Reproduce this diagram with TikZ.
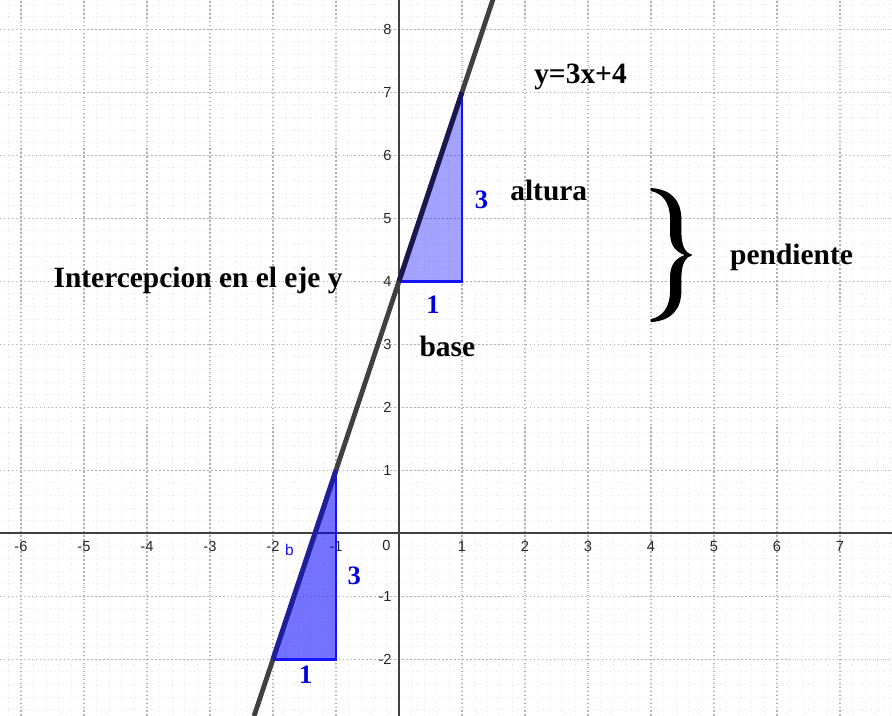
\documentclass[tikz,border=0pt]{standalone}
\usepackage{fontspec}
\setmainfont{Liberation Serif}
\newfontfamily\ticksans{Liberation Sans}
\definecolor{axisgray}{RGB}{64,64,64}
\definecolor{lbl}{RGB}{0,0,220}
\definecolor{navyedgeA}{RGB}{25,25,80}
\definecolor{navyedgeB}{RGB}{30,30,160}
\definecolor{edgeblue}{RGB}{20,20,255}
\begin{document}
\begin{tikzpicture}[x=1cm,y=1cm,
  majorgrid/.style={gray!60, line width=0.7pt, dash pattern=on 0.7pt off 1.1pt},
  minorgrid/.style={gray!18, line width=0.5pt, dash pattern=on 0.5pt off 1.4pt},
  tick/.style={font=\ticksans\fontsize{6.6}{7}\selectfont, text=black!85, inner sep=0pt},
  lab/.style={font=\bfseries\fontsize{13.3}{15}\selectfont, inner sep=0pt, anchor=base west},
  num/.style={font=\bfseries\fontsize{12}{14}\selectfont, text=lbl, inner sep=0pt, anchor=base},
]
\useasboundingbox (-6.333,-2.884) rectangle (7.825,8.465);
\clip (-6.333,-2.884) rectangle (7.825,8.465);
% minor grid
\foreach \i in {-32,...,39} \draw[minorgrid] (\i/5,-2.9) -- (\i/5,8.5);
\foreach \j in {-15,...,43} \draw[minorgrid] (-6.4,\j/5) -- (7.9,\j/5);
% major grid
\foreach \i in {-6,...,7} \draw[majorgrid] (\i,-2.9) -- (\i,8.5);
\foreach \j in {-2,...,8} \draw[majorgrid] (-6.4,\j) -- (7.9,\j);
% axes
\coordinate (XL) at (-6.4,0); \coordinate (XR) at (7.9,0);
\coordinate (YB) at (0,-2.9); \coordinate (YT) at (0,8.5);
\draw[axisgray, line width=0.75pt] (XL) -- (XR);
\draw[axisgray, line width=0.75pt] (YB) -- (YT);
% tick labels
\foreach \i in {-6,-5,-4,-3,-2,-1,1,2,3,4,5,6,7}
  \node[tick] (xt\i) at (\i,-0.21) {\i};
\foreach \j in {-2,-1,1,2,3,4,5,6,7,8}
  \node[tick, anchor=east] (yt\j) at (-0.11,\j) {\j};
\node[tick] (o) at (-0.2,-0.19) {0};
% triangles fill
\coordinate (A) at (0,4); \coordinate (B) at (1,4); \coordinate (C) at (1,7);
\coordinate (D) at (-2,-2); \coordinate (E) at (-1,-2); \coordinate (F) at (-1,1);
\fill[blue, opacity=0.36] (A) -- (B) -- (C) -- cycle;
\fill[blue, opacity=0.55] (D) -- (E) -- (F) -- cycle;
% the line y=3x+4
\coordinate (L0) at (-2.3,-2.9); \coordinate (L1) at (1.5,8.5);
\draw[axisgray, line width=2.2pt] (L0) -- (L1);
% triangle edges
\draw[edgeblue, line width=1.3pt] (A) -- (B) -- (C);
\draw[navyedgeA, line width=2.2pt] (A) -- (C);
\draw[edgeblue, line width=1.3pt] (D) -- (E) -- (F);
\draw[navyedgeB, line width=2.2pt] (D) -- (F);
% blue numbers
\node[num] (b1) at (0.54,3.49) {1};
\node[num] (h1) at (1.31,5.15) {3};
\node[num] (b2) at (-1.48,-2.39) {1};
\node[num] (h2) at (-0.71,-0.82) {3};
\node[font=\ticksans\fontsize{7}{8}\selectfont, text=edgeblue, inner sep=0pt, anchor=base] (bb) at (-1.74,-0.36) {b};
% black labels
\node[lab] (eq) at (2.14,7.14) {y=3x+4};
\node[lab] (alt) at (1.76,5.29) {altura};
\node[lab] (bas) at (0.32,2.81) {base};
\node[lab] (icp) at (-5.49,3.905) {Intercepcion en el eje y};
\node[lab] (pend) at (5.25,4.26) {pendiente};
% brace
\begin{scope}[shift={(3.508,5.767)}, x=0.005291cm, y=-0.005291cm]
\fill[black] (92,54) .. controls (155,58) and (184,92) .. (184,150) -- (184,188)
  .. controls (184,228) and (196,249) .. (217,255)
  .. controls (196,261) and (184,282) .. (184,322) -- (184,360)
  .. controls (184,418) and (155,452) .. (92,456)
  -- (92,447) .. controls (128,440) and (150,412) .. (150,362) -- (150,322)
  .. controls (150,285) and (166,265) .. (194,255)
  .. controls (166,245) and (150,225) .. (150,188) -- (150,148)
  .. controls (150,98) and (128,70) .. (92,63) -- cycle;
\end{scope}
\end{tikzpicture}
\end{document}
